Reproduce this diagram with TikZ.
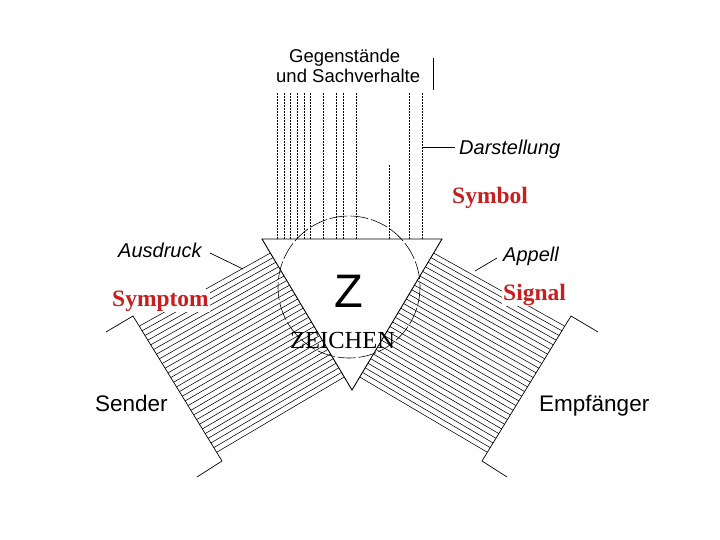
\documentclass[tikz,border=0pt]{standalone}
\usepackage{fontspec}
\setmainfont{Liberation Serif}
\newfontfamily\arialfont{Liberation Sans}
\usetikzlibrary{calc}
\definecolor{redlabel}{RGB}{200,30,30}
\begin{document}
\begin{tikzpicture}[x=1pt,y=-1pt,
  sanslabel/.style={font=\arialfont\fontsize{18.5}{22}\selectfont, inner sep=0pt, anchor=base west},
  itlabel/.style={font=\arialfont\itshape\fontsize{20}{24}\selectfont, inner sep=0pt, anchor=base west},
  biglabel/.style={font=\arialfont\fontsize{22.5}{27}\selectfont, inner sep=0pt, anchor=base west},
  redtext/.style={font=\bfseries\fontsize{23.5}{28}\selectfont, text=redlabel, fill=white, inner sep=1pt, anchor=base west},
  hatchline/.style={line width=0.55pt},
  edgeline/.style={line width=0.7pt},
  dotline/.style={line width=0.8pt, dash pattern=on 1.6pt off 1.4pt},
  circleline/.style={line width=0.6pt, dash pattern=on 18pt off 3pt},
  leader/.style={line width=0.7pt}]
\useasboundingbox (0,0) rectangle (720,540);

% key points
\coordinate (TL) at (262,239);
\coordinate (TR) at (442,239);
\coordinate (Bot) at (352,390);
\coordinate (LT1) at (106,332);
\coordinate (LA) at (133,316);
\coordinate (LB) at (222,461);
\coordinate (LT2) at (197,477);
\coordinate (RT1) at (598,332);
\coordinate (RA) at (571,316);
\coordinate (RB) at (482,461);
\coordinate (RT2) at (507,477);

% hatching of the two bands
\foreach \i in {0,...,27}{
  \pgfmathsetmacro{\t}{0.07+\i*(0.94-0.07)/27}
  \pgfmathsetmacro{\s}{0.093+\i*(0.914-0.093)/27}
  \draw[hatchline] ($(LA)!\t!(LB)$) -- ($(TL)!\s!(Bot)$);
  \draw[hatchline] ($(RA)!\t!(RB)$) -- ($(TR)!\s!(Bot)$);
}

% vertical dotted lines (objects and states of affairs)
\foreach \x in {277.3,284,290.7,297.3,304,310.7,323.3,336.7,343.3,356.7,409.3,422.7}{
  \draw[dotline] (\x,93) -- (\x,239);
}
\draw[dotline] (389.3,165) -- (389.3,239);

% sender / receiver brackets
\draw[edgeline] (LT1) -- (LA) -- (LB) -- (LT2);
\draw[edgeline] (RT1) -- (RA) -- (RB) -- (RT2);

% circle and triangle
\coordinate (C) at (349,287);
\draw[circleline] (C) circle[radius=71];
\draw[line width=0.9pt, fill=none] (TL) -- (TR) -- (Bot) -- cycle;

% top labels
\node[sanslabel] (geg) at (289,63) {Gegenstände};
\node[sanslabel] (und) at (276,83) {und Sachverhalte};
\coordinate (bar1) at (433,58);
\coordinate (bar2) at (433,90);
\draw[leader] (bar1) -- (bar2);

\node[itlabel] (dar) at (459,155) {Darstellung};
\coordinate (darA) at (423,147);
\coordinate (darB) at (455,147);
\draw[leader] (darA) -- (darB);

\node[redtext] (symbol) at (451,204) {Symbol};

% side labels
\node[itlabel] (aus) at (118,257) {Ausdruck};
\coordinate (ausA) at (210,253);
\coordinate (ausB) at (243,269);
\draw[leader] (ausA) -- (ausB);

\node[itlabel] (app) at (503,261) {Appell};
\coordinate (appA) at (497,258);
\coordinate (appB) at (475,271);
\draw[leader] (appA) -- (appB);

\node[redtext] (symptom) at (111,306) {Symptom};
\node[redtext] (signal) at (502,300) {Signal};

\node[biglabel] (sender) at (95,411) {Sender};
\node[biglabel] (empf) at (539,411) {Empfänger};

% centre
\node[font=\arialfont\fontsize{47}{52}\selectfont, inner sep=0pt, anchor=base west] (Z) at (334,307) {Z};
\node[font=\fontsize{24.5}{29}\selectfont, inner sep=0pt, anchor=base west] (zeichen) at (290,348) {ZEICHEN};
\end{tikzpicture}
\end{document}
